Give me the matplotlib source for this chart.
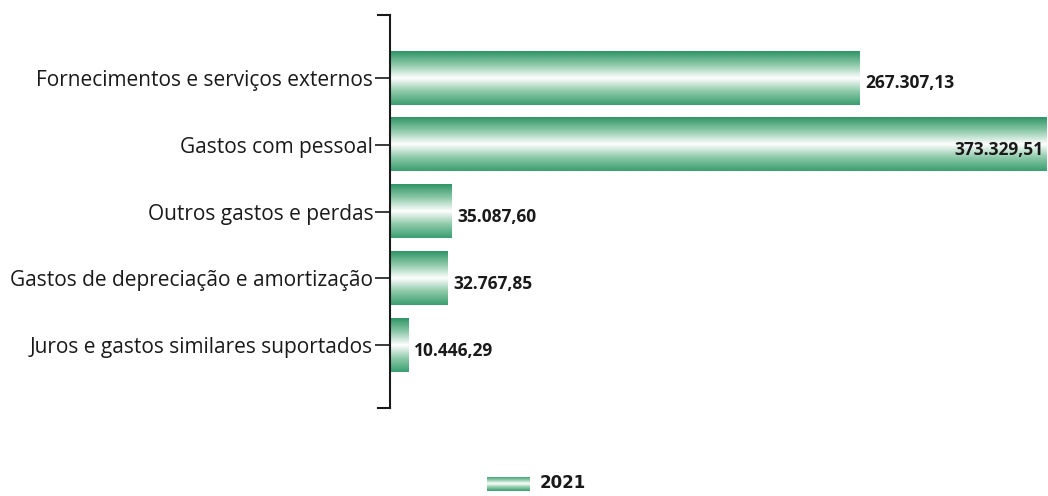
import numpy as np
import matplotlib.pyplot as plt
from matplotlib.colors import LinearSegmentedColormap

# Data
categories = ['Fornecimentos e serviços externos', 'Gastos com pessoal',
              'Outros gastos e perdas', 'Gastos de depreciação e amortização',
              'Juros e gastos similares suportados']
values = [267307.13, 373329.51, 35087.60, 32767.85, 10446.29]
series_name = '2021'


def fmt_pt(v):
    s = f"{v:,.2f}"
    return s.replace(',', 'X').replace('.', ',').replace('X', '.')


# green -> white -> green vertical gradient
cmap = LinearSegmentedColormap.from_list(
    'grad', ['#2f9466', '#8cc9a8', '#ffffff', '#8cc9a8', '#3a9e70'])
grad = np.linspace(0, 1, 256).reshape(-1, 1)

fig = plt.figure(figsize=(10.48, 4.96), dpi=100)
ax = fig.add_axes([0.372, 0.177, 0.628, 0.793])

bar_h = 0.8
y_pos = np.arange(len(categories))
xmax = 374500
for y, v in zip(y_pos, values):
    ax.imshow(grad, cmap=cmap, aspect='auto', interpolation='bicubic',
              extent=[0, v, y + bar_h / 2, y - bar_h / 2], zorder=2)
    if v > 0.9 * xmax:
        ax.text(v - 1500, y + 0.08, fmt_pt(v), ha='right', va='center',
                fontsize=12.5, fontweight='bold', color='#1a1a1a',
                family='Open Sans', fontstretch='condensed', zorder=3)
    else:
        ax.text(v + 3500, y + 0.08, fmt_pt(v), ha='left', va='center',
                fontsize=12.5, fontweight='bold', color='#1a1a1a',
                family='Open Sans', zorder=3)

ax.set_xlim(0, xmax)
ax.set_ylim(len(categories) - 1 + 0.94, -0.94)
ax.set_yticks(y_pos)
ax.set_yticklabels(categories, fontsize=15, family='Open Sans', color='#1a1a1a')
ax.tick_params(axis='y', length=11, width=1.2, color='#1a1a1a', pad=1)
ax.set_xticks([])
for side in ['top', 'right', 'bottom']:
    ax.spines[side].set_visible(False)
ax.spines['left'].set_linewidth(1.5)
ax.spines['left'].set_color('#1a1a1a')
# caps at both ends of the axis line
for yy in (0, 1):
    ax.plot([-0.018, 0], [yy, yy], transform=ax.transAxes, color='#1a1a1a',
            lw=1.5, clip_on=False)

# legend
lax = fig.add_axes([487 / 1048, 1 - 491 / 496, 43 / 1048, 14 / 496])
lax.imshow(grad, cmap=cmap, aspect='auto', interpolation='bicubic')
lax.axis('off')
fig.text(540 / 1048, 1 - 483 / 496, series_name, fontsize=12, fontweight='bold',
         va='center', ha='left', color='#1a1a1a')

fig.savefig('out.png', dpi=100)
